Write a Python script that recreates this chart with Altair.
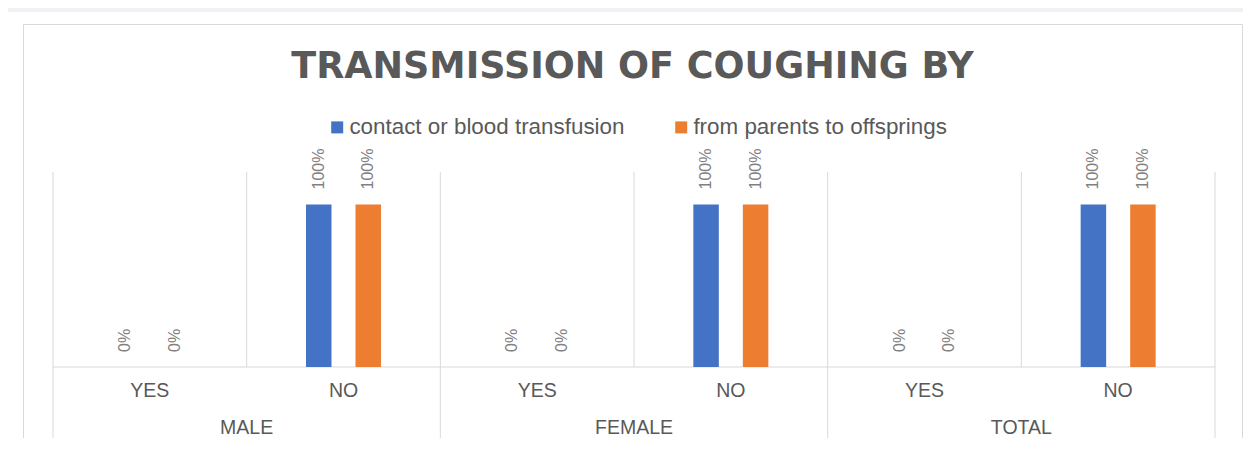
import altair as alt
import pandas as pd

# ---- data ----
groups = ["MALE", "FEMALE", "TOTAL"]
answers = ["YES", "NO"]
series = ["contact or blood transfusion", "from parents to offsprings"]
contact_vals = [0.0, 1.0, 0.0, 1.0, 0.0, 1.0]
parents_vals = [0.0, 1.0, 0.0, 1.0, 0.0, 1.0]
colors = ["#4472C4", "#ED7D31"]
title_text = "TRANSMISSION OF COUGHING BY"

# ---- tables built from the arrays ----
cells = [f"{g}|{a}" for g in groups for a in answers]
rows = []
for i, c in enumerate(cells):
    g, a = c.split("|")
    rows.append(dict(cell=c, group=g, answer=a, series=series[0], value=contact_vals[i]))
    rows.append(dict(cell=c, group=g, answer=a, series=series[1], value=parents_vals[i]))
df = pd.DataFrame(rows)
cell_df = pd.DataFrame({
    "cell": cells,
    "group": [c.split("|")[0] for c in cells],
    "answer": [c.split("|")[1] for c in cells],
})
group_df = cell_df[cell_df.answer == "NO"].copy()
one = pd.DataFrame({"k": [0]})

# ---- layout ----
W, H = 1162, 195
PAD_L, PAD_T = 45, 164
CANVAS_W, CANVAS_H = 1235, 430
GRID = "#d9d9d9"
TXT = "#595959"

x_scale = alt.Scale(domain=cells, paddingInner=0, paddingOuter=0)
y_scale = alt.Scale(domain=[0, 1.2])
off_scale = alt.Scale(domain=series, paddingInner=0, paddingOuter=0.956)


def xenc(band=None):
    if band is None:
        return alt.X("cell:N", scale=x_scale, axis=None)
    return alt.X("cell:N", scale=x_scale, axis=None, bandPosition=band)


white = alt.Chart(one).mark_rect(color="white").encode(
    x=alt.value(-PAD_L), x2=alt.value(CANVAS_W - PAD_L),
    y=alt.value(4 - PAD_T), y2=alt.value(CANVAS_H - PAD_T))

frame = alt.Chart(one).mark_rect(fill="white", stroke=GRID, strokeWidth=1).encode(
    x=alt.value(15.5 - PAD_L), x2=alt.value(CANVAS_W - 0.5 - PAD_L),
    y=alt.value(16.5 - PAD_T), y2=alt.value(CANVAS_H - PAD_T + 20))

inner_grid = alt.Chart(cell_df[cell_df.answer == "NO"]).mark_rule(color=GRID, strokeWidth=1).encode(
    x=xenc(0), y=alt.value(0), y2=alt.value(H))

outer_grid = alt.Chart(cell_df[cell_df.answer == "YES"]).mark_rule(color=GRID, strokeWidth=1).encode(
    x=xenc(0), y=alt.value(0), y2=alt.value(268))

end_grid = alt.Chart(cell_df.tail(1)).mark_rule(color=GRID, strokeWidth=1).encode(
    x=xenc(1), y=alt.value(0), y2=alt.value(268))

baseline = alt.Chart(one).mark_rule(color=GRID, strokeWidth=1).encode(
    x=alt.value(0), x2=alt.value(W), y=alt.value(H))

bars = alt.Chart(df).mark_bar(size=25.5).encode(
    x=xenc(),
    xOffset=alt.XOffset("series:N", scale=off_scale),
    y=alt.Y("value:Q", scale=y_scale, axis=None),
    color=alt.Color("series:N", scale=alt.Scale(domain=series, range=colors),
                    legend=alt.Legend(title=None, orient="none", legendX=273, legendY=-56,
                                      direction="horizontal", symbolType="square",
                                      symbolSize=144, symbolStrokeWidth=0,
                                      labelFont="Liberation Sans", labelFontSize=22.4,
                                      labelColor=TXT, labelLimit=600, labelOffset=1,
                                      columnPadding=45, padding=0)),
)

labels = alt.Chart(df).mark_text(angle=270, align="left", baseline="middle", dx=15,
                                 font="Liberation Sans", fontSize=16, color="#808080").encode(
    x=xenc(),
    xOffset=alt.XOffset("series:N", scale=off_scale),
    y=alt.Y("value:Q", scale=y_scale, axis=None),
    text=alt.Text("value:Q", format=".0%"),
)

lvl1 = alt.Chart(cell_df).mark_text(align="center", baseline="alphabetic",
                                    font="Liberation Sans", fontSize=19.5, color=TXT).encode(
    x=xenc(), y=alt.value(224.7), text="answer:N")

lvl2 = alt.Chart(group_df).mark_text(align="center", baseline="alphabetic",
                                     font="Liberation Sans", fontSize=19.5, color=TXT).encode(
    x=xenc(0), y=alt.value(262), text="group:N")

title = alt.Chart(one).mark_text(align="center", baseline="alphabetic", font="DejaVu Sans",
                                 fontWeight="bold", fontSize=36.5, color=TXT).encode(
    x=alt.value(W / 2 - 1.5), y=alt.value(-94), text=alt.value(title_text))

chart = alt.layer(white, frame, inner_grid, outer_grid, end_grid, baseline, bars, labels,
                  lvl1, lvl2, title).properties(
    width=W, height=H,
    padding={"left": PAD_L, "top": PAD_T, "right": CANVAS_W - PAD_L - W,
             "bottom": CANVAS_H - PAD_T - H},
    autosize=alt.AutoSizeParams(type="none"),
    background="#eff1f4",
).configure_view(stroke=None)

chart.save("out.html", embed_options={"renderer": "svg", "actions": False})
